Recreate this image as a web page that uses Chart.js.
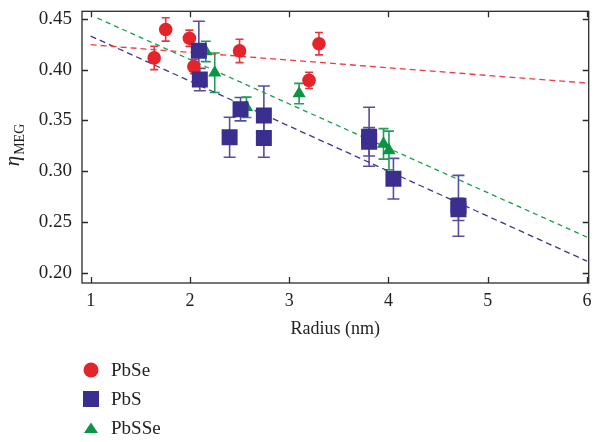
<!DOCTYPE html>
<html>
<head>
<meta charset="utf-8">
<title>MEG efficiency vs radius</title>
<script src="https://cdn.jsdelivr.net/npm/chart.js@4.4.0/dist/chart.umd.min.js"></script>
<style>
  html, body { margin: 0; padding: 0; background: #fff; }
  #wrap { width: 600px; height: 442px; }
</style>
</head>
<body>
<div id="wrap"><canvas id="myChart" width="600" height="442"></canvas></div>
<script>
const seriesNames = ['PbSe', 'PbS', 'PbSSe'];

const pbseRadius = [1.64, 1.756, 1.995, 2.04, 2.50, 3.20, 3.30];
const pbseEta    = [0.4116, 0.4396, 0.431, 0.403, 0.4185, 0.3895, 0.4256];
const pbseErr    = [0.0115, 0.0115, 0.008, 0.007, 0.0115, 0.008, 0.011];

const pbsRadius = [2.09, 2.10, 2.40, 2.51, 2.745, 2.745, 3.805, 3.805, 4.05, 4.705, 4.705];
const pbsEta    = [0.4187, 0.3903, 0.3335, 0.3611, 0.355, 0.3328, 0.334, 0.329, 0.2927, 0.266, 0.2625];
const pbsErr    = [0.029, 0.011, 0.0197, 0.0115, 0.029, 0.019, 0.029, 0.014, 0.020, 0.030, 0.011];

const pbsseRadius = [2.16, 2.25, 2.57, 3.10, 3.95, 4.005];
const pbsseEta    = [0.418, 0.397, 0.363, 0.3765, 0.327, 0.3205];
const pbsseErr    = [0.010, 0.0195, 0.010, 0.010, 0.015, 0.019];

// dashed linear fits (end points)
const fitPbseX  = [1.0, 6.0];  const fitPbseY  = [0.4246, 0.3868];
const fitPbsX   = [1.0, 6.0];  const fitPbsY   = [0.4331, 0.2115];
const fitPbsseX = [1.07, 6.0]; const fitPbsseY = [0.4507, 0.2352];

const xTicks = [1, 2, 3, 4, 5, 6];
const yTicks = [0.20, 0.25, 0.30, 0.35, 0.40, 0.45];

const RED = '#e5232a', BLUE = '#3a2e8f', GREEN = '#0b9444';
const SERIF = '"Liberation Serif", "DejaVu Serif", serif';

function pts(xs, ys) {
    return xs.map((v, i) => ({ x: v, y: ys[i] }));
}

Chart.defaults.font.family = SERIF;
Chart.defaults.color = '#222';

// vertical error bars, drawn under the markers
const errorBars = {
    id: 'errorBars',
    beforeDatasetsDraw(chart) {
        const { ctx, scales: { x, y } } = chart;
        ctx.save();
        chart.data.datasets.forEach(ds => {
            if (!ds.errors) return;
            ctx.strokeStyle = ds.errorColor;
            ctx.lineWidth = 1.6;
            const c = ds.capWidth / 2;
            ds.data.forEach((p, i) => {
                const px = x.getPixelForValue(p.x);
                const top = y.getPixelForValue(p.y + ds.errors[i]);
                const bot = y.getPixelForValue(p.y - ds.errors[i]);
                ctx.beginPath();
                ctx.moveTo(px, top); ctx.lineTo(px, bot);
                ctx.moveTo(px - c, top); ctx.lineTo(px + c, top);
                ctx.moveTo(px - c, bot); ctx.lineTo(px + c, bot);
                ctx.stroke();
            });
        });
        ctx.restore();
    }
};

function marker(ctx, shape, cx, cy, color) {
    ctx.fillStyle = color;
    ctx.beginPath();
    if (shape === 'circle') {
        ctx.arc(cx, cy, 7.5, 0, Math.PI * 2);
    } else if (shape === 'rect') {
        ctx.rect(cx - 8, cy - 8, 16, 16);
    } else {
        ctx.moveTo(cx, cy - 5.5);
        ctx.lineTo(cx + 7, cy + 5);
        ctx.lineTo(cx - 7, cy + 5);
        ctx.closePath();
    }
    ctx.fill();
}

// box with inward ticks, y title with subscript, legend under the plot
const frame = {
    id: 'frame',
    afterDraw(chart) {
        const { ctx, chartArea: a, scales: { x, y } } = chart;
        ctx.save();
        ctx.strokeStyle = '#2b2b2b';
        ctx.lineWidth = 1.3;
        ctx.strokeRect(a.left, a.top, a.right - a.left, a.bottom - a.top);
        ctx.beginPath();
        xTicks.forEach(v => {
            const px = Math.round(x.getPixelForValue(v)) + 0.5;
            ctx.moveTo(px, a.bottom); ctx.lineTo(px, a.bottom - 6);
            ctx.moveTo(px, a.top); ctx.lineTo(px, a.top + 6);
        });
        yTicks.forEach(v => {
            const py = Math.round(y.getPixelForValue(v)) + 0.5;
            ctx.moveTo(a.left, py); ctx.lineTo(a.left + 6, py);
            ctx.moveTo(a.right, py); ctx.lineTo(a.right - 6, py);
        });
        ctx.stroke();

        // y title: eta with MEG subscript
        ctx.translate(0, 145);
        ctx.rotate(-Math.PI / 2);
        ctx.fillStyle = '#222';
        ctx.textBaseline = 'alphabetic';
        ctx.font = 'italic 21px ' + SERIF;
        const wEta = ctx.measureText('η').width;
        ctx.font = '14px ' + SERIF;
        const wSub = ctx.measureText('MEG').width;
        const x0 = -(wEta + 1 + wSub) / 2;
        ctx.font = 'italic 21px ' + SERIF;
        ctx.fillText('η', x0, 18.5);
        ctx.font = '14px ' + SERIF;
        ctx.fillText('MEG', x0 + wEta + 1, 23.5);
        ctx.setTransform(1, 0, 0, 1, 0, 0);

        // legend
        const shapes = ['circle', 'rect', 'triangle'];
        const colors = [RED, BLUE, GREEN];
        ctx.font = '19px ' + SERIF;
        ctx.textBaseline = 'middle';
        ctx.textAlign = 'left';
        seriesNames.forEach((name, i) => {
            const cy = 370 + i * 29;
            marker(ctx, shapes[i], 91, cy, colors[i]);
            ctx.fillStyle = '#222';
            ctx.fillText(name, 111, cy + 1);
        });
        ctx.restore();
    }
};

const ctx = document.getElementById('myChart').getContext('2d');
const myChart = new Chart(ctx, {
    type: 'scatter',
    data: {
        datasets: [
            {
                label: seriesNames[1],
                data: pts(pbsRadius, pbsEta),
                errors: pbsErr, errorColor: '#564ea3', capWidth: 12,
                backgroundColor: BLUE, borderColor: BLUE, borderWidth: 0,
                pointStyle: 'rect', pointRadius: 11.3, order: 1
            },
            {
                label: seriesNames[2],
                data: pts(pbsseRadius, pbsseEta),
                errors: pbsseErr, errorColor: '#1f9e55', capWidth: 10,
                backgroundColor: GREEN, borderColor: GREEN, borderWidth: 0,
                pointStyle: 'triangle', pointRadius: 7.6, order: 2
            },
            {
                label: seriesNames[0],
                data: pts(pbseRadius, pbseEta),
                errors: pbseErr, errorColor: '#e8353b', capWidth: 8,
                backgroundColor: RED, borderColor: RED, borderWidth: 0,
                pointStyle: 'circle', pointRadius: 6.8, order: 3
            },
            {
                type: 'line', label: 'fit PbSe', data: pts(fitPbseX, fitPbseY),
                borderColor: '#ee3a3f', borderWidth: 1.3, borderDash: [6, 4],
                pointRadius: 0, fill: false, order: 4
            },
            {
                type: 'line', label: 'fit PbS', data: pts(fitPbsX, fitPbsY),
                borderColor: '#3f3596', borderWidth: 1.3, borderDash: [6, 4],
                pointRadius: 0, fill: false, order: 5
            },
            {
                type: 'line', label: 'fit PbSSe', data: pts(fitPbsseX, fitPbsseY),
                borderColor: '#16a04e', borderWidth: 1.3, borderDash: [5, 4],
                pointRadius: 0, fill: false, order: 6
            }
        ]
    },
    options: {
        responsive: false,
        animation: false,
        layout: { padding: { top: 9, right: 5, bottom: 99, left: 0 } },
        plugins: {
            legend: { display: false },
            tooltip: { enabled: false }
        },
        scales: {
            x: {
                type: 'linear',
                min: 0.913, max: 6.017,
                afterBuildTicks: s => { s.ticks = xTicks.map(v => ({ value: v })); },
                afterFit: s => { s.height = 60; s.paddingLeft = 0; s.paddingRight = 0; },
                grid: { display: false, drawTicks: false },
                border: { display: false },
                ticks: { font: { size: 18, lineHeight: 2.0 }, padding: 0, maxRotation: 0, callback: v => String(v) },
                title: { display: true, text: 'Radius (nm)', font: { size: 18 }, padding: { top: 0, bottom: 3 } }
            },
            y: {
                type: 'linear',
                min: 0.19, max: 0.4575,
                afterBuildTicks: s => { s.ticks = yTicks.map(v => ({ value: v })); },
                afterFit: s => { s.width = 82; s.paddingTop = 0; s.paddingBottom = 0; },
                grid: { display: false, drawTicks: false },
                border: { display: false },
                ticks: { font: { size: 19 }, padding: 10, callback: v => v.toFixed(2) }
            }
        }
    },
    plugins: [errorBars, frame]
});
</script>
</body>
</html>
